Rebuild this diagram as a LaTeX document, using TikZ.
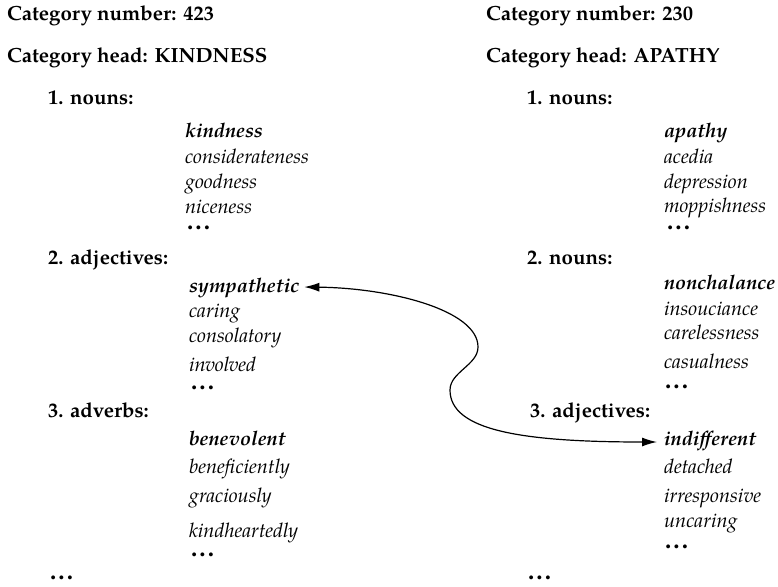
\documentclass[tikz,border=0pt]{standalone}
\usepackage{fontspec}
\setmainfont{TeX Gyre Pagella}
\usetikzlibrary{arrows.meta,calc}
\begin{document}
\begin{tikzpicture}[x=1pt,y=-1pt,
  every node/.style={inner sep=0pt,outer sep=0pt,anchor=base west},
  head/.style={font=\fontsize{20.5}{24}\selectfont\bfseries},
  word/.style={font=\fontsize{20}{24}\selectfont\itshape},
  keyword/.style={font=\fontsize{20}{24}\selectfont\bfseries\itshape},
  more/.style={font=\fontsize{25}{28}\selectfont\bfseries},
  link/.style={line width=1.2pt,{Latex[length=15pt,width=9pt]}-{Latex[length=15pt,width=9pt]}}
]
\useasboundingbox (0,0) rectangle (778,586);
\newcommand{\mydots}{.\kern2.2pt.\kern2.2pt.}
% left category
\node[head] (cn1) at (7,21) {Category number: 423};
\node[head] (ch1) at (7,63) {Category head: KINDNESS};
\node[head] (a1) at (48,104) {1. nouns:};
\node[keyword] (kindness) at (185,137) {kindness};
\node[word] (a12) at (185,163) {considerateness};
\node[word] (a13) at (185,188) {goodness};
\node[word] (a14) at (185,213) {niceness};
\node[more] (a15) at (187,229) {\mydots};
\node[head] (a2) at (48,264) {2. adjectives:};
\node[keyword] (sym) at (189,292) {sympathetic};
\node[word] (a22) at (189,317) {caring};
\node[word] (a23) at (189,342) {consolatory};
\node[word] (a24) at (189,371) {involved};
\node[more] (a25) at (191,389) {\mydots};
\node[head] (a3) at (48,417) {3. adverbs:};
\node[keyword] (a31) at (189,445) {benevolent};
\node[word] (a32) at (189,473) {beneficiently};
\node[word] (a33) at (189,502) {graciously};
\node[word] (a34) at (189,537) {kindheartedly};
\node[more] (a35) at (191,556) {\mydots};
\node[more] (aend) at (50,579) {\mydots};
% right category
\node[head] (cn2) at (486,21) {Category number: 230};
\node[head] (ch2) at (486,63) {Category head: APATHY};
\node[head] (b1) at (527,104) {1. nouns:};
\node[keyword] (apathy) at (664,137) {apathy};
\node[word] (b12) at (664,163) {acedia};
\node[word] (b13) at (664,188) {depression};
\node[word] (b14) at (664,212) {moppishness};
\node[more] (b15) at (667,229) {\mydots};
\node[head] (b2) at (527,264) {2. nouns:};
\node[keyword] (b21) at (664,289) {nonchalance};
\node[word] (b22) at (664,315) {insouciance};
\node[word] (b23) at (664,339) {carelessness};
\node[word] (b24) at (664,368) {casualness};
\node[more] (b25) at (665,388) {\mydots};
\node[head] (b3) at (530,417) {3. adjectives:};
\node[keyword] (ind) at (664,445) {indifferent};
\node[word] (b32) at (664,473) {detached};
\node[word] (b33) at (664,502) {irresponsive};
\node[word] (b34) at (664,527) {uncaring};
\node[more] (b35) at (665,548) {\mydots};
\node[more] (bend) at (528,579) {\mydots};
% link
\draw[link] ($(sym.base east)+(5,-5)$) .. controls (390,288) and (478,310) .. (478,347)
  .. controls (478,365) and (450,372) .. (450,390)
  .. controls (450,430) and (520,442) .. ($(ind.base west)+(-7,-3)$);
\end{tikzpicture}
\end{document}
